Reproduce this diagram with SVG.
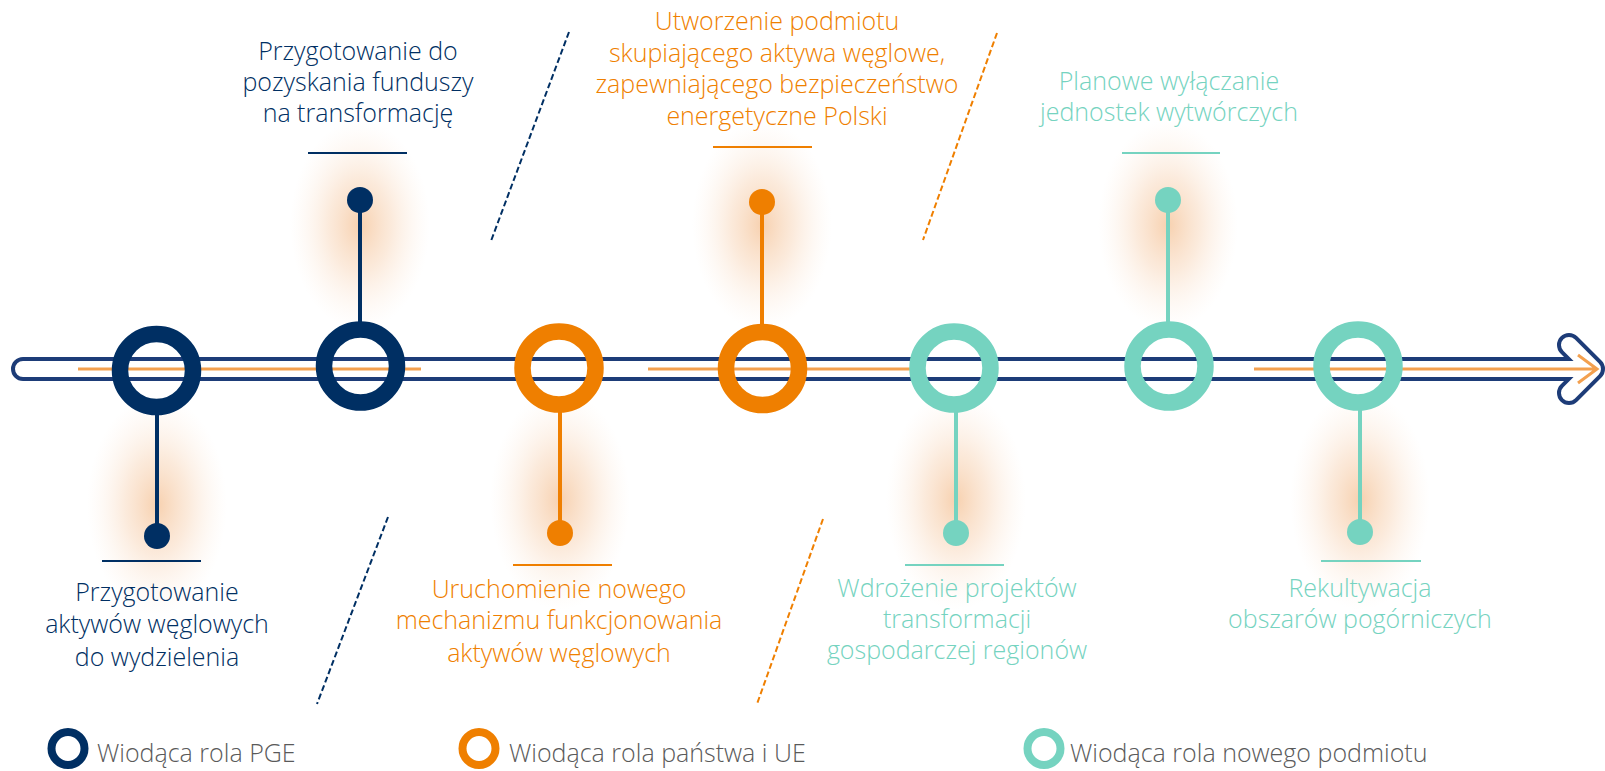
<svg xmlns="http://www.w3.org/2000/svg" width="1605" height="771" viewBox="0 0 1605 771">
<style>
  .lbl { font-family: "Open Sans", "Noto Sans", "Liberation Sans", sans-serif; font-size: 25px; font-weight: 350; text-anchor: middle; }
  .navy { fill: #002F63; }
  .orange { fill: #EF7F00; }
  .teal { fill: #75D3C0; }
  .leg { font-family: "Open Sans", "Noto Sans", "Liberation Sans", sans-serif; font-size: 25px; font-weight: 300; fill: #5A5A5A; }
  .ringN { fill: none; stroke: #002F63; stroke-width: 16.5; }
  .ringO { fill: none; stroke: #EF7F00; stroke-width: 16.5; }
  .ringT { fill: none; stroke: #75D3C0; stroke-width: 16.5; }
  .stemN { stroke: #002F63; stroke-width: 4; }
  .stemO { stroke: #EF7F00; stroke-width: 4; }
  .stemT { stroke: #75D3C0; stroke-width: 4; }
  .ulN { stroke: #002F63; stroke-width: 2; }
  .ulO { stroke: #EF7F00; stroke-width: 2; }
  .ulT { stroke: #75D3C0; stroke-width: 2; }
  .dashN { stroke: #002F63; stroke-width: 2; stroke-dasharray: 6 3; fill: none; }
  .dashO { stroke: #EF7F00; stroke-width: 2; stroke-dasharray: 6 3; fill: none; }
  .glow { fill: url(#glowGrad); }
</style>
<defs>
  <radialGradient id="glowGrad" cx="0.5" cy="0.5" r="0.5">
    <stop offset="0" stop-color="#F2B27A" stop-opacity="0.6"/>
    <stop offset="0.45" stop-color="#F5C49A" stop-opacity="0.35"/>
    <stop offset="1" stop-color="#FBE3CF" stop-opacity="0"/>
  </radialGradient>
</defs>
<rect width="1605" height="771" fill="#FFFFFF"/>

<g id="glows">
  <ellipse class="glow" cx="157" cy="505" rx="70" ry="110"/>
  <ellipse class="glow" cx="360" cy="225" rx="70" ry="105"/>
  <ellipse class="glow" cx="560" cy="500" rx="70" ry="110"/>
  <ellipse class="glow" cx="762" cy="225" rx="70" ry="105"/>
  <ellipse class="glow" cx="956" cy="500" rx="70" ry="110"/>
  <ellipse class="glow" cx="1168" cy="225" rx="70" ry="105"/>
  <ellipse class="glow" cx="1360" cy="500" rx="70" ry="110"/>
</g>

<g id="connectors">
  <g id="timeline">
    <path d="M23 369 H1588 M1569 345 L1593 369 L1569 393" fill="none" stroke="#1D3C78" stroke-width="24" stroke-linecap="round" stroke-linejoin="round"/>
    <path d="M23 369 H1588 M1569 345 L1593 369 L1569 393" fill="none" stroke="#FFFFFF" stroke-width="16" stroke-linecap="round" stroke-linejoin="round"/>
    <path d="M78 369 H421 M648 369 H910 M1254 369 H1596 M1578 355 L1597 369 L1578 383" fill="none" stroke="#F3A04F" stroke-width="3" stroke-linejoin="miter"/>
  </g>
  <line class="dashN" x1="569" y1="32" x2="491" y2="241"/>
  <line class="dashO" x1="997" y1="33" x2="923" y2="240"/>
  <line class="dashN" x1="388" y1="517" x2="317" y2="704"/>
  <line class="dashO" x1="823" y1="519" x2="757" y2="704"/>
</g>

<g id="node1">
  <line class="stemN" x1="157" y1="400" x2="157" y2="536"/>
  <circle class="ringN" cx="156.5" cy="370.5" r="36.5"/>
  <circle class="navy" cx="157" cy="536" r="13"/>
  <line class="ulN" x1="102" y1="561" x2="201" y2="561"/>
  <text class="lbl navy"><tspan x="157" y="601">Przygotowanie</tspan><tspan x="157" y="633">aktywów węglowych</tspan><tspan x="157" y="666">do wydzielenia</tspan></text>
</g>

<g id="node2">
  <line class="stemN" x1="360" y1="200" x2="360" y2="335"/>
  <circle class="ringN" cx="360.5" cy="366" r="36.5"/>
  <circle class="navy" cx="360" cy="200" r="13"/>
  <line class="ulN" x1="308" y1="153" x2="407" y2="153"/>
  <text class="lbl navy"><tspan x="358" y="60">Przygotowanie do</tspan><tspan x="358" y="91">pozyskania funduszy</tspan><tspan x="358" y="122">na transformację</tspan></text>
</g>

<g id="node3">
  <line class="stemO" x1="560" y1="400" x2="560" y2="533"/>
  <circle class="ringO" cx="559" cy="368" r="36.5"/>
  <circle class="orange" cx="560" cy="533" r="13"/>
  <line class="ulO" x1="513" y1="565" x2="612" y2="565"/>
  <text class="lbl orange"><tspan x="559" y="598">Uruchomienie nowego</tspan><tspan x="559" y="629">mechanizmu funkcjonowania</tspan><tspan x="559" y="662">aktywów węglowych</tspan></text>
</g>

<g id="node4">
  <line class="stemO" x1="762" y1="202" x2="762" y2="335"/>
  <circle class="ringO" cx="762.5" cy="368.5" r="36.5"/>
  <circle class="orange" cx="762" cy="202" r="13"/>
  <line class="ulO" x1="713" y1="147" x2="812" y2="147"/>
  <text class="lbl orange"><tspan x="777" y="30">Utworzenie podmiotu</tspan><tspan x="777" y="62">skupiającego aktywa węglowe,</tspan><tspan x="777" y="93">zapewniającego bezpieczeństwo</tspan><tspan x="777" y="125">energetyczne Polski</tspan></text>
</g>

<g id="node5">
  <line class="stemT" x1="956" y1="400" x2="956" y2="533"/>
  <circle class="ringT" cx="954" cy="368" r="36.5"/>
  <circle class="teal" cx="956" cy="533" r="13"/>
  <line class="ulT" x1="905" y1="565" x2="1004" y2="565"/>
  <text class="lbl teal"><tspan x="957" y="597">Wdrożenie projektów</tspan><tspan x="957" y="628">transformacji</tspan><tspan x="957" y="659">gospodarczej regionów</tspan></text>
</g>

<g id="node6">
  <line class="stemT" x1="1168" y1="200" x2="1168" y2="335"/>
  <circle class="ringT" cx="1169" cy="366" r="36.5"/>
  <circle class="teal" cx="1168" cy="200" r="13"/>
  <line class="ulT" x1="1122" y1="153" x2="1220" y2="153"/>
  <text class="lbl teal"><tspan x="1169" y="90">Planowe wyłączanie</tspan><tspan x="1169" y="121">jednostek wytwórczych</tspan></text>
</g>

<g id="node7">
  <line class="stemT" x1="1360" y1="400" x2="1360" y2="532"/>
  <circle class="ringT" cx="1358" cy="366" r="36.5"/>
  <circle class="teal" cx="1360" cy="532" r="13"/>
  <line class="ulT" x1="1321" y1="561" x2="1421" y2="561"/>
  <text class="lbl teal"><tspan x="1360" y="597">Rekultywacja</tspan><tspan x="1360" y="628">obszarów pogórniczych</tspan></text>
</g>

<g id="legend">
  <circle cx="68" cy="748.5" r="16.5" fill="none" stroke="#002F63" stroke-width="8"/>
  <text class="leg" x="97" y="762">Wiodąca rola PGE</text>
  <circle cx="479" cy="748.5" r="16.5" fill="none" stroke="#EF7F00" stroke-width="8"/>
  <text class="leg" x="509" y="762">Wiodąca rola państwa i UE</text>
  <circle cx="1044" cy="748.5" r="16.5" fill="none" stroke="#75D3C0" stroke-width="8"/>
  <text class="leg" x="1070" y="762">Wiodąca rola nowego podmiotu</text>
</g>
</svg>
